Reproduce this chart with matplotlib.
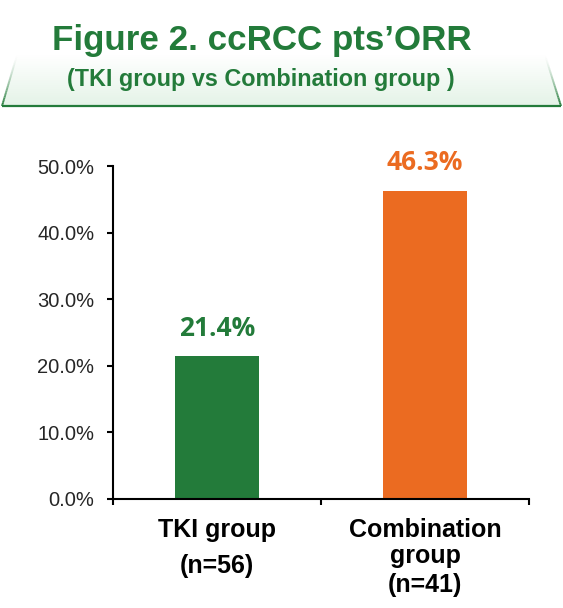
import numpy as np
import matplotlib
matplotlib.use("Agg")
import matplotlib.pyplot as plt
from matplotlib.patches import Polygon
from matplotlib.collections import LineCollection
from matplotlib.transforms import blended_transform_factory

# ---- data ----
categories = ["TKI group", "Combination group"]
cat_label_lines = [["TKI group", "(n=56)"], ["Combination", "group", "(n=41)"]]
orr_values = [21.4, 46.3]
value_labels = ["21.4%", "46.3%"]
yticks = [0, 10, 20, 30, 40, 50]
ytick_labels = ["0.0%", "10.0%", "20.0%", "30.0%", "40.0%", "50.0%"]
title = "Figure 2. ccRCC pts\u2019ORR"
subtitle = "(TKI group vs Combination group )"

GREEN = "#237B3A"
ORANGE = "#EB6B21"
W, H = 563, 608

fig = plt.figure(figsize=(W / 100, H / 100), dpi=100)

# ---- header background ----
bg = fig.add_axes([0, 0, 1, 1], zorder=-1)
bg.set_xlim(0, W)
bg.set_ylim(H, 0)
bg.axis("off")
top_y, bot_y = 55, 106
poly_pts = [(17, top_y), (545, top_y), (561, bot_y), (2, bot_y)]
grad = np.linspace(0, 1, 256).reshape(-1, 1)
c_top = np.array([1.0, 1.0, 1.0])
c_bot = np.array([0xE4, 0xF3, 0xE7]) / 255.0
img = c_top + (c_bot - c_top) * grad[..., None]
im = bg.imshow(img, extent=[0, W, bot_y, top_y], aspect="auto", zorder=0)
clip = Polygon(poly_pts, closed=True, transform=bg.transData, facecolor="none", edgecolor="none")
bg.add_patch(clip)
im.set_clip_path(clip)
bg.plot([2, 561], [bot_y, bot_y], color=GREEN, lw=1.6, zorder=2, solid_capstyle="butt")
# fading side edges
n = 30
for (x0, y0), (x1, y1) in [((17, top_y), (2, bot_y)), ((545, top_y), (561, bot_y))]:
    xs = np.linspace(x0, x1, n + 1)
    ys = np.linspace(y0, y1, n + 1)
    segs = [[(xs[i], ys[i]), (xs[i + 1], ys[i + 1])] for i in range(n)]
    alphas = np.linspace(0, 1, n) ** 1.5
    cols = [(0x23 / 255, 0x7B / 255, 0x3A / 255, a) for a in alphas]
    bg.add_collection(LineCollection(segs, colors=cols, linewidths=1.4, zorder=2))

fig.text(262 / W, 1 - 50 / H, title, ha="center", va="baseline",
         fontsize=25.2, fontweight="bold", color=GREEN, family="Liberation Sans")
fig.text(261 / W, 1 - 86 / H, subtitle, ha="center", va="baseline",
         fontsize=16.8, fontweight="bold", color=GREEN, family="Liberation Sans")

# ---- main axes ----
left, right, bottom, top = 113, 529, 499, 166
ax = fig.add_axes([left / W, 1 - bottom / H, (right - left) / W, (bottom - top) / H])
x = np.arange(len(categories))
bar_colors = [GREEN, ORANGE]
ax.bar(x, orr_values, width=0.40, color=bar_colors, zorder=2)
ax.set_xlim(-0.5, len(categories) - 0.5)
ax.set_ylim(0, 50)
ax.set_yticks(yticks)
ax.set_yticklabels(ytick_labels, family="Liberation Sans", fontsize=14.5, color="#262626")
ax.set_xticks(np.arange(len(categories) + 1) - 0.5)
ax.set_xticklabels([])
ax.tick_params(axis="y", direction="out", length=4.5, width=1.5, pad=9, color="black")
ax.tick_params(axis="x", direction="out", length=4.5, width=1.5, color="black")
for s in ["top", "right"]:
    ax.spines[s].set_visible(False)
for s in ["left", "bottom"]:
    ax.spines[s].set_linewidth(1.5)
    ax.spines[s].set_color("black")

# value labels
for xi, v, lab, c in zip(x, orr_values, value_labels, bar_colors):
    ax.annotate(lab, (xi, v), xytext=(0, 15), textcoords="offset points",
                ha="center", va="baseline", fontsize=19, fontweight="bold",
                color=c, family="Open Sans")

# category labels
tr = blended_transform_factory(ax.transData, fig.transFigure)
baselines = [[537, 573], [537, 563, 592]]
for xi, lines, bls in zip(x, cat_label_lines, baselines):
    for line, by in zip(lines, bls):
        ax.text(xi, 1 - by / H, line, transform=tr, ha="center", va="baseline",
                fontsize=18, fontweight="bold", color="black",
                family="Liberation Sans", clip_on=False)

fig.savefig("out.png", dpi=100)
